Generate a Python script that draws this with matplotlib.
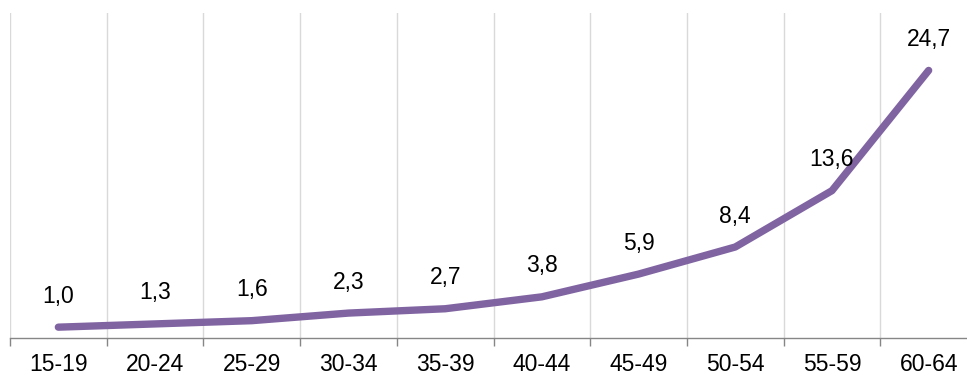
from matplotlib import pyplot as plt
import numpy as np

# age groups and values
ages = ['15-19', '20-24', '25-29', '30-34', '35-39',
        '40-44', '45-49', '50-54', '55-59', '60-64']
values = [1.0, 1.3, 1.6, 2.3, 2.7, 3.8, 5.9, 8.4, 13.6, 24.7]

plt.rcParams['font.family'] = ['Liberation Sans', 'DejaVu Sans']

fig = plt.figure(figsize=(9.67, 3.77), dpi=100)
# axes runs a bit past the right edge like in the original
ax = fig.add_axes([10/967, 39/377, 967/967, 325/377])

x = np.arange(len(ages))
ax.plot(x, values, color='#8064A2', linewidth=5.3, solid_capstyle='round',
        solid_joinstyle='round', zorder=3)

for xi, v in zip(x, values):
    ax.annotate(f'{v:.1f}'.replace('.', ','), (xi, v), xytext=(0, 31),
                textcoords='offset pixels', ha='center', va='center',
                fontsize=16.5, color='black')

ax.set_xlim(-0.5, len(ages) - 0.5)
ax.set_ylim(0, 30)

# vertical gridlines at category boundaries
bounds = np.arange(len(ages) + 1) - 0.5
for b in bounds:
    ax.axvline(b, color='#D9D9D9', linewidth=1, zorder=1)

ax.set_xticks(bounds)
ax.set_xticklabels([])
ax.set_xticks(x, minor=True)
ax.set_xticklabels(ages, minor=True, fontsize=16.5)
ax.tick_params(axis='x', which='major', length=6, width=1, color='#868686')
ax.tick_params(axis='x', which='minor', length=0, pad=11)
ax.set_yticks([])

for s in ['top', 'right', 'left']:
    ax.spines[s].set_visible(False)
ax.spines['bottom'].set_color('#868686')
ax.spines['bottom'].set_linewidth(1)

fig.savefig('out.png', dpi=100)
